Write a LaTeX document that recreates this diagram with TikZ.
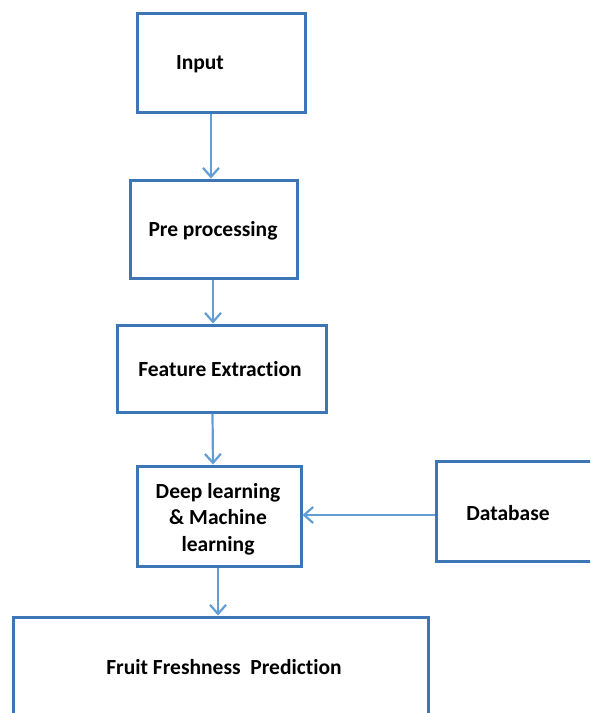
\documentclass[tikz,border=0pt]{standalone}
\usepackage{fontspec}
\setmainfont{Carlito}[Ligatures=NoCommon]
\usetikzlibrary{arrows.meta}
\definecolor{boxblue}{RGB}{61,118,182}
\definecolor{arrblue}{RGB}{98,157,214}
\begin{document}
\begin{tikzpicture}[x=1pt,y=-1pt,
  box/.style={draw=boxblue,line width=3pt,rectangle,inner sep=0pt},
  lbl/.style={font=\fontsize{21.5}{26.5}\selectfont\bfseries,align=center,inner sep=0pt},
  arr/.style={draw=arrblue,line width=2.2pt,-{Straight Barb[length=9pt,width=16pt]}}]
\useasboundingbox (0,0) rectangle (590,713);
\clip (0,0) rectangle (590,713);
\node[box,minimum width=168pt,minimum height=99pt] (input) at (221,62.5) {};
\node[lbl] (inputtxt) at (200,64) {Input};
\node[box,minimum width=167pt,minimum height=98pt] (pre) at (213.5,229) {};
\node[lbl] (pretxt) at (213,231) {Pre processing};
\node[box,minimum width=209pt,minimum height=87pt] (feat) at (221.5,368.5) {};
\node[lbl] (feattxt) at (220,369) {Feature Extraction};
\node[box,minimum width=164pt,minimum height=100pt] (deep) at (219,516) {};
\node[lbl] (deeptxt) at (218,519) {Deep learning\\\& Machine\\learning};
\node[box,minimum width=170pt,minimum height=100pt] (db) at (521,511) {};
\node[lbl] (dbtxt) at (508,513) {Database};
\node[box,minimum width=415pt,minimum height=130pt] (fruit) at (220.5,682) {};
\node[lbl] (fruittxt) at (224,667) {Fruit Freshness\ \ Prediction};
\draw[arr] ([xshift=-10pt]input.south) -- ([xshift=-2.5pt]pre.north);
\draw[arr] ([xshift=-0.5pt]pre.south) -- ([xshift=-8.5pt]feat.north);
\draw[arr] ([xshift=-9pt]feat.south) -- ([xshift=-6pt]deep.north);
\draw[arr] ([xshift=-1pt]deep.south) -- ([xshift=-2.5pt]fruit.north);
\draw[arr] ([yshift=-4pt]db.west) -- ([yshift=1pt]deep.east);
\end{tikzpicture}
\end{document}
